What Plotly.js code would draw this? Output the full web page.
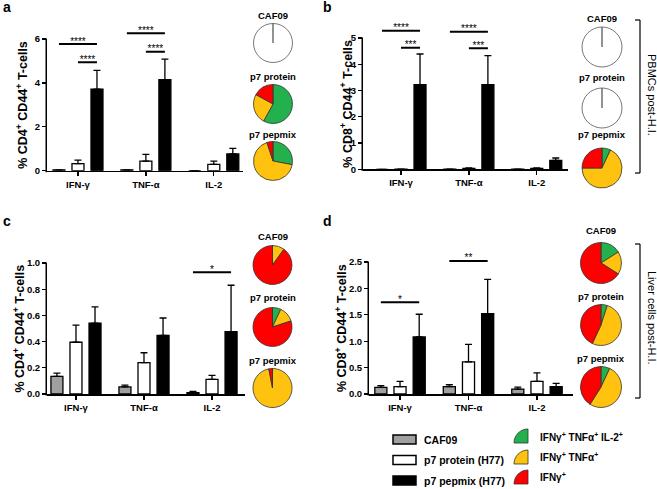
<!DOCTYPE html>
<html><head><meta charset="utf-8">
<script src="https://cdn.plot.ly/plotly-3.0.1.min.js"></script>
<style>html,body{margin:0;padding:0;background:#fff}#chart{width:657px;height:489px}</style>
</head><body><div id="chart"></div>
<script>
// ---------- DATA ----------
const categories = ['IFN-γ', 'TNF-α', 'IL-2'];
const seriesNames = ['CAF09', 'p7 protein (H77)', 'p7 pepmix (H77)'];
const pieLabels = ['IFNγ<sup>+</sup> TNFα<sup>+</sup> IL-2<sup>+</sup>', 'IFNγ<sup>+</sup> TNFα<sup>+</sup>', 'IFNγ<sup>+</sup>'];
const pieTitles = ['CAF09', 'p7 protein', 'p7 pepmix'];

// Panel a: % CD4+ CD44+ T-cells (PBMCs)
const aCAF09 = [0.04, 0.04, 0.0];
const aCAF09Err = [0, 0, 0];
const aProtein = [0.32, 0.44, 0.29];
const aProteinErr = [0.16, 0.30, 0.15];
const aPepmix = [3.72, 4.15, 0.76];
const aPepmixErr = [0.85, 0.93, 0.26];
const aSigGroup = [0, 0, 1, 1];
const aSigFrom = [0, 1, 0, 1];
const aSigTo = [2, 2, 2, 2];
const aSigY = [5.77, 4.94, 6.26, 5.42];
const aSigLabel = ['****', '****', '****', '****'];
const aPieCAF09 = [0, 0, 0];
const aPieProtein = [58, 25, 17];
const aPiePepmix = [28, 67, 5];

// Panel b: % CD8+ CD44+ T-cells (PBMCs)
const bCAF09 = [0.0, 0.01, 0.01];
const bCAF09Err = [0, 0, 0];
const bProtein = [0.01, 0.03, 0.03];
const bProteinErr = [0.0, 0.02, 0.02];
const bPepmix = [3.22, 3.22, 0.34];
const bPepmixErr = [1.17, 1.11, 0.09];
const bSigGroup = [0, 0, 1, 1];
const bSigFrom = [0, 1, 0, 1];
const bSigTo = [2, 2, 2, 2];
const bSigY = [5.28, 4.63, 5.24, 4.61];
const bSigLabel = ['****', '***', '****', '***'];
const bPieCAF09 = [0, 0, 0];
const bPieProtein = [0, 0, 0];
const bPiePepmix = [7, 68, 25];

// Panel c: % CD4+ CD44+ T-cells (liver)
const cCAF09 = [0.135, 0.054, 0.01];
const cCAF09Err = [0.025, 0.013, 0.01];
const cProtein = [0.395, 0.24, 0.112];
const cProteinErr = [0.13, 0.075, 0.03];
const cPepmix = [0.54, 0.447, 0.475];
const cPepmixErr = [0.125, 0.133, 0.355];
const cSigGroup = [2];
const cSigFrom = [0];
const cSigTo = [2];
const cSigY = [0.93];
const cSigLabel = ['*'];
const cPieCAF09 = [0, 10, 90];
const cPieProtein = [7, 13, 80];
const cPiePepmix = [0, 97, 3];

// Panel d: % CD8+ CD44+ T-cells (liver)
const dCAF09 = [0.125, 0.14, 0.094];
const dCAF09Err = [0.035, 0.035, 0.036];
const dProtein = [0.14, 0.61, 0.24];
const dProteinErr = [0.10, 0.33, 0.16];
const dPepmix = [1.08, 1.52, 0.14];
const dPepmixErr = [0.43, 0.65, 0.06];
const dSigGroup = [0, 1];
const dSigFrom = [0, 0];
const dSigTo = [2, 2];
const dSigY = [1.74, 2.52];
const dSigLabel = ['*', '**'];
const dPieCAF09 = [16, 18, 66];
const dPieProtein = [5, 52, 43];
const dPiePepmix = [7, 52, 41];

// ---------- STYLE / LAYOUT ----------
const W = 657, H = 489;
const FONT = 'Liberation Sans, Arial, sans-serif';
const barFills = ['#a0a0a0', '#ffffff', '#000000'];
const pieColors = ['#22b14c', '#ffc20e', '#ff0000'];
const BARGAP = 0.16, SLOT = (1 - BARGAP) / 3;
const fx = x => x / W, fy = y => 1 - y / H;

const panels = [
  {sfx: '', vals: [aCAF09, aProtein, aPepmix], errs: [aCAF09Err, aProteinErr, aPepmixErr],
   sig: [aSigGroup, aSigFrom, aSigTo, aSigY, aSigLabel], pies: [aPieCAF09, aPieProtein, aPiePepmix],
   xDom: [47, 243], yPx: [39, 170.7], xr: [-0.456, 2.43], yMax: 6, yTop: 6.6, dtick: 2, fmt: '',
   title: '% CD4<sup>+</sup> CD44<sup>+</sup> T-cells', tx: 22, pieX: 273, pieY: [43, 104, 161], pieR: 19.5,
   ptY: [15, 76, 134], label: 'a', lx: 1, ly: 7},
  {sfx: '2', vals: [bCAF09, bProtein, bPepmix], errs: [bCAF09Err, bProteinErr, bPepmixErr],
   sig: [bSigGroup, bSigFrom, bSigTo, bSigY, bSigLabel], pies: [bPieCAF09, bPieProtein, bPiePepmix],
   xDom: [363, 568], yPx: [38, 169.3], xr: [-0.56, 2.46], yMax: 5, yTop: 5.6, dtick: 1, fmt: '',
   title: '% CD8<sup>+</sup> CD44<sup>+</sup> T-cells', tx: 346, pieX: 602, pieY: [47, 108, 168], pieR: 20,
   ptY: [18, 78, 135], label: 'b', lx: 321, ly: 7},
  {sfx: '3', vals: [cCAF09, cProtein, cPepmix], errs: [cCAF09Err, cProteinErr, cPepmixErr],
   sig: [cSigGroup, cSigFrom, cSigTo, cSigY, cSigLabel], pies: [cPieCAF09, cPieProtein, cPiePepmix],
   xDom: [47, 245], yPx: [263, 394], xr: [-0.426, 2.485], yMax: 1, yTop: 1, dtick: 0.2, fmt: '.1f',
   title: '% CD4<sup>+</sup> CD44<sup>+</sup> T-cells', tx: 18, pieX: 272.5, pieY: [265, 327, 388], pieR: 19.5,
   ptY: [236, 297, 360], label: 'c', lx: 1, ly: 221},
  {sfx: '4', vals: [dCAF09, dProtein, dPepmix], errs: [dCAF09Err, dProteinErr, dPepmixErr],
   sig: [dSigGroup, dSigFrom, dSigTo, dSigY, dSigLabel], pies: [dPieCAF09, dPieProtein, dPiePepmix],
   xDom: [369, 573], yPx: [262, 394], xr: [-0.453, 2.526], yMax: 2.5, yTop: 2.75, dtick: 0.5, fmt: '.1f',
   title: '% CD8<sup>+</sup> CD44<sup>+</sup> T-cells', tx: 341, pieX: 601, pieY: [263, 325, 387], pieR: 20.5,
   ptY: [231, 296, 358], label: 'd', lx: 321, ly: 221}
];

const traces = [];
const annotations = [];
const shapes = [];
const layout = {
  width: W, height: H, margin: {l: 0, r: 0, t: 0, b: 0},
  paper_bgcolor: '#fff', plot_bgcolor: 'rgba(0,0,0,0)', showlegend: false,
  barmode: 'group', bargap: BARGAP, bargroupgap: 0.37,
  font: {family: FONT, color: '#000'}
};

panels.forEach(p => {
  const xa = 'x' + p.sfx, ya = 'y' + p.sfx;
  const ppu = (p.yPx[1] - p.yPx[0]) / p.yMax;           // pixels per unit
  const domTop = p.yPx[0] - (p.yTop - p.yMax) * ppu;     // extend plot area above the last tick
  layout['xaxis' + p.sfx] = {
    domain: [fx(p.xDom[0]), fx(p.xDom[1])], range: p.xr, anchor: ya,
    tickvals: [0, 1, 2], ticktext: categories, showline: true, linecolor: '#000', linewidth: 1.5,
    ticks: 'outside', ticklen: 4, tickwidth: 1.3, tickcolor: '#000', showgrid: false, zeroline: false,
    tickfont: {family: FONT, size: 9.5, weight: 'bold', color: '#000'}, fixedrange: true
  };
  layout['yaxis' + p.sfx] = {
    domain: [fy(p.yPx[1]), fy(domTop)], range: [0, p.yTop], anchor: xa,
    tick0: 0, dtick: p.dtick, tickformat: p.fmt, showline: false,
    ticks: 'outside', ticklen: 4, tickwidth: 1.3, tickcolor: '#000', showgrid: false, zeroline: false,
    tickfont: {family: FONT, size: 9.5, weight: 'bold', color: '#000'}, fixedrange: true
  };
  // y axis line, only from 0 to the last tick (as in the original)
  shapes.push({type: 'line', xref: 'paper', yref: 'paper', x0: fx(p.xDom[0] - 0.75), x1: fx(p.xDom[0] - 0.75),
    y0: fy(p.yPx[1] + 1.5), y1: fy(p.yPx[0] - 0.6), line: {color: '#000', width: 1.5}});
  // bars
  for (let s = 0; s < 3; s++) {
    traces.push({
      type: 'bar', x: [0, 1, 2], y: p.vals[s], name: seriesNames[s], xaxis: xa, yaxis: ya,
      marker: {color: barFills[s], line: {color: '#000', width: 1.3}},
      error_y: {type: 'data', symmetric: false, array: p.errs[s], arrayminus: [0, 0, 0],
                color: '#000', thickness: 1.3, width: 3.5},
      cliponaxis: false, hoverinfo: 'skip'
    });
  }
  // significance bars
  const [g, f, t, yv, lab] = p.sig;
  for (let i = 0; i < g.length; i++) {
    const x0 = g[i] + (f[i] - 1) * SLOT, x1 = g[i] + (t[i] - 1) * SLOT;
    traces.push({type: 'scatter', mode: 'lines', x: [x0, x1], y: [yv[i], yv[i]], xaxis: xa, yaxis: ya,
      line: {color: '#000', width: 2}, cliponaxis: false, hoverinfo: 'skip'});
    traces.push({type: 'scatter', mode: 'text', x: [(x0 + x1) / 2], y: [yv[i] + 2 / ppu], text: [lab[i]], xaxis: xa, yaxis: ya,
      textposition: 'middle center', textfont: {family: FONT, size: 10, color: '#000'}, cliponaxis: false, hoverinfo: 'skip'});
  }
  // pies
  p.pies.forEach((vals, k) => {
    const empty = vals.every(v => v === 0);
    const cx = p.pieX, cy = p.pieY[k], r = p.pieR;
    traces.push({
      type: 'pie', values: empty ? [1, 0] : vals, labels: empty ? ['n1', 'n2'] : pieLabels,
      marker: {colors: empty ? ['#fff', '#fff'] : pieColors, line: {color: empty ? '#555' : '#333', width: 0.8}},
      domain: {x: [fx(cx - r), fx(cx + r)], y: [fy(cy + r), fy(cy - r)]},
      sort: false, direction: 'clockwise', rotation: 0, textinfo: 'none', hoverinfo: 'skip', showlegend: false
    });
    annotations.push({xref: 'paper', yref: 'paper', x: fx(cx), y: fy(p.ptY[k]), xanchor: 'center', yanchor: 'middle',
      text: pieTitles[k], showarrow: false, font: {family: FONT, size: 9.5, weight: 'bold', color: '#000'}});
  });
  // y title
  annotations.push({xref: 'paper', yref: 'paper', x: fx(p.tx), y: fy((p.yPx[0] + p.yPx[1]) / 2),
    xanchor: 'center', yanchor: 'middle', textangle: -90, text: p.title, showarrow: false,
    font: {family: FONT, size: 12.5, weight: 'bold', color: '#000'}});
  // panel letter
  annotations.push({xref: 'paper', yref: 'paper', x: fx(p.lx), y: fy(p.ly), xanchor: 'left', yanchor: 'middle',
    text: p.label, showarrow: false, font: {family: FONT, size: 14, weight: 'bold', color: '#000'}});
});

// brackets on the right
const brackets = [[20, 173, 95, 'PBMCs post-H.I.'], [244, 398, 318, 'Liver cells post-H.I.']];
brackets.forEach(b => {
  const ln = {color: '#000', width: 1.2};
  shapes.push({type: 'line', xref: 'paper', yref: 'paper', x0: fx(640), x1: fx(640), y0: fy(b[0]), y1: fy(b[1]), line: ln});
  shapes.push({type: 'line', xref: 'paper', yref: 'paper', x0: fx(635), x1: fx(640), y0: fy(b[0]), y1: fy(b[0]), line: ln});
  shapes.push({type: 'line', xref: 'paper', yref: 'paper', x0: fx(635), x1: fx(640), y0: fy(b[1]), y1: fy(b[1]), line: ln});
  annotations.push({xref: 'paper', yref: 'paper', x: fx(652), y: fy(b[2]), textangle: 90, text: b[3], showarrow: false,
    xanchor: 'center', yanchor: 'middle', font: {family: FONT, size: 11, color: '#000'}});
});

// legend: bar series
const legY = [439.5, 460, 480.5];
seriesNames.forEach((nm, i) => {
  shapes.push({type: 'rect', xref: 'paper', yref: 'paper', x0: fx(393), x1: fx(416), y0: fy(legY[i] + 4.5), y1: fy(legY[i] - 4.5),
    fillcolor: barFills[i], line: {color: '#000', width: 1.5}});
  annotations.push({xref: 'paper', yref: 'paper', x: fx(422), y: fy(legY[i]), xanchor: 'left', yanchor: 'middle',
    text: nm, showarrow: false, font: {family: FONT, size: 10.5, weight: 'bold', color: '#000'}});
});
// legend: pie categories (quarter-slice icons)
const iconBottom = [443, 464, 484];
const txtY = [437, 457, 477];
pieLabels.forEach((lab, i) => {
  const cx = 528, cy = iconBottom[i], r = 14, k = 0.5523;
  const P = (x, y) => fx(x) + ',' + fy(y);
  const path = 'M' + P(cx, cy) + ' L' + P(cx - r, cy) + ' C' + P(cx - r, cy - k * r) + ' ' + P(cx - k * r, cy - r) + ' ' + P(cx, cy - r) + ' Z';
  shapes.push({type: 'path', xref: 'paper', yref: 'paper', path: path, fillcolor: pieColors[i], line: {color: '#333', width: 0.8}});
  annotations.push({xref: 'paper', yref: 'paper', x: fx(538), y: fy(txtY[i]), xanchor: 'left', yanchor: 'middle',
    text: lab, showarrow: false, font: {family: FONT, size: 10, weight: 'bold', color: '#000'}});
});

layout.annotations = annotations;
layout.shapes = shapes;
Plotly.newPlot('chart', traces, layout, {staticPlot: true, displayModeBar: false});
</script></body></html>
